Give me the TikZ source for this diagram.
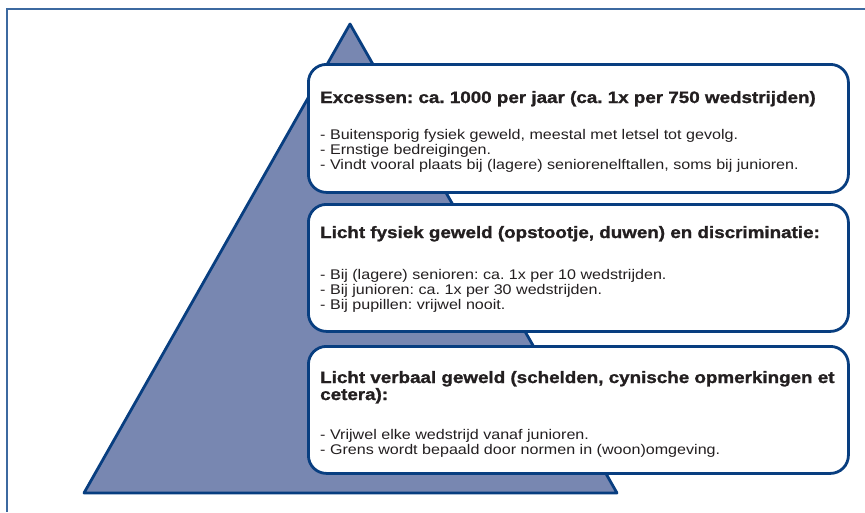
\documentclass[tikz,border=0pt]{standalone}
\usepackage{fontspec}
\setmainfont{Liberation Sans}
\newfontfamily\headfont[FakeStretch=1.14, FakeBold=1.2]{Liberation Sans}
\newfontfamily\bodyfont[FakeStretch=1.15]{Liberation Sans}
\usepackage{tikz}
\frenchspacing

\definecolor{pyrfill}{RGB}{120,135,177}
\definecolor{pyrline}{RGB}{8,62,128}
\definecolor{framec}{RGB}{60,105,160}
\definecolor{inkc}{RGB}{35,31,32}

\tikzset{
  tier/.style={draw=pyrline, line width=2.8pt, rounded corners=18pt, fill=white,
    minimum width=540pt, anchor=north west, inner sep=0pt},
  head/.style={anchor=base west, inner sep=0pt, text=inkc,
    font=\headfont\bfseries\fontsize{16.5}{18}\selectfont},
  item/.style={anchor=base west, inner sep=0pt, text=inkc,
    font=\bodyfont\fontsize{14}{15}\selectfont}
}

\begin{document}
\begin{tikzpicture}[x=1pt, y=-1pt]
	\useasboundingbox (0,0) rectangle (865,512);
	\fill[white] (0,0) rectangle (865,512);
	% frame
	\draw[color=framec, line width=1.3pt] (865,9) -- (7,9) -- (7,512);
	% pyramid
	\draw[color=pyrline, fill=pyrfill, line width=2.8pt, line join=round] (350,24) -- (617,493) -- (84,493) -- cycle;
	% three tiers
	\node[tier, minimum height=128pt] (exc) at (307,63) {};
	\node[tier, minimum height=127pt] (fys) at (307,203) {};
	\node[tier, minimum height=127pt] (verb) at (307,345) {};
	% texts top
	\node[head] (excT) at (320,103) {Excessen: ca. 1000 per jaar (ca. 1x per 750 wedstrijden)};
	\node[item] (exc1) at (320,139) {- Buitensporig fysiek geweld, meestal met letsel tot gevolg.};
	\node[item] (exc2) at (320,154) {- Ernstige bedreigingen.};
	\node[item] (exc3) at (320,169) {- Vindt vooral plaats bij (lagere) seniorenelftallen, soms bij junioren.};
	% texts middle
	\node[head] (fysT) at (320,238) {Licht fysiek geweld (opstootje, duwen) en discriminatie:};
	\node[item] (fys1) at (320,279) {- Bij (lagere) senioren: ca. 1x per 10 wedstrijden.};
	\node[item] (fys2) at (320,294) {- Bij junioren: ca. 1x per 30 wedstrijden.};
	\node[item] (fys3) at (320,309) {- Bij pupillen: vrijwel nooit.};
	% texts bottom
	\node[head] (verbT) at (320,383) {Licht verbaal geweld (schelden, cynische opmerkingen et};
	\node[head] (verbT2) at (320,400) {cetera):};
	\node[item] (verb1) at (320,439) {- Vrijwel elke wedstrijd vanaf junioren.};
	\node[item] (verb2) at (320,454) {- Grens wordt bepaald door normen in (woon)omgeving.};
\end{tikzpicture}
\end{document}
